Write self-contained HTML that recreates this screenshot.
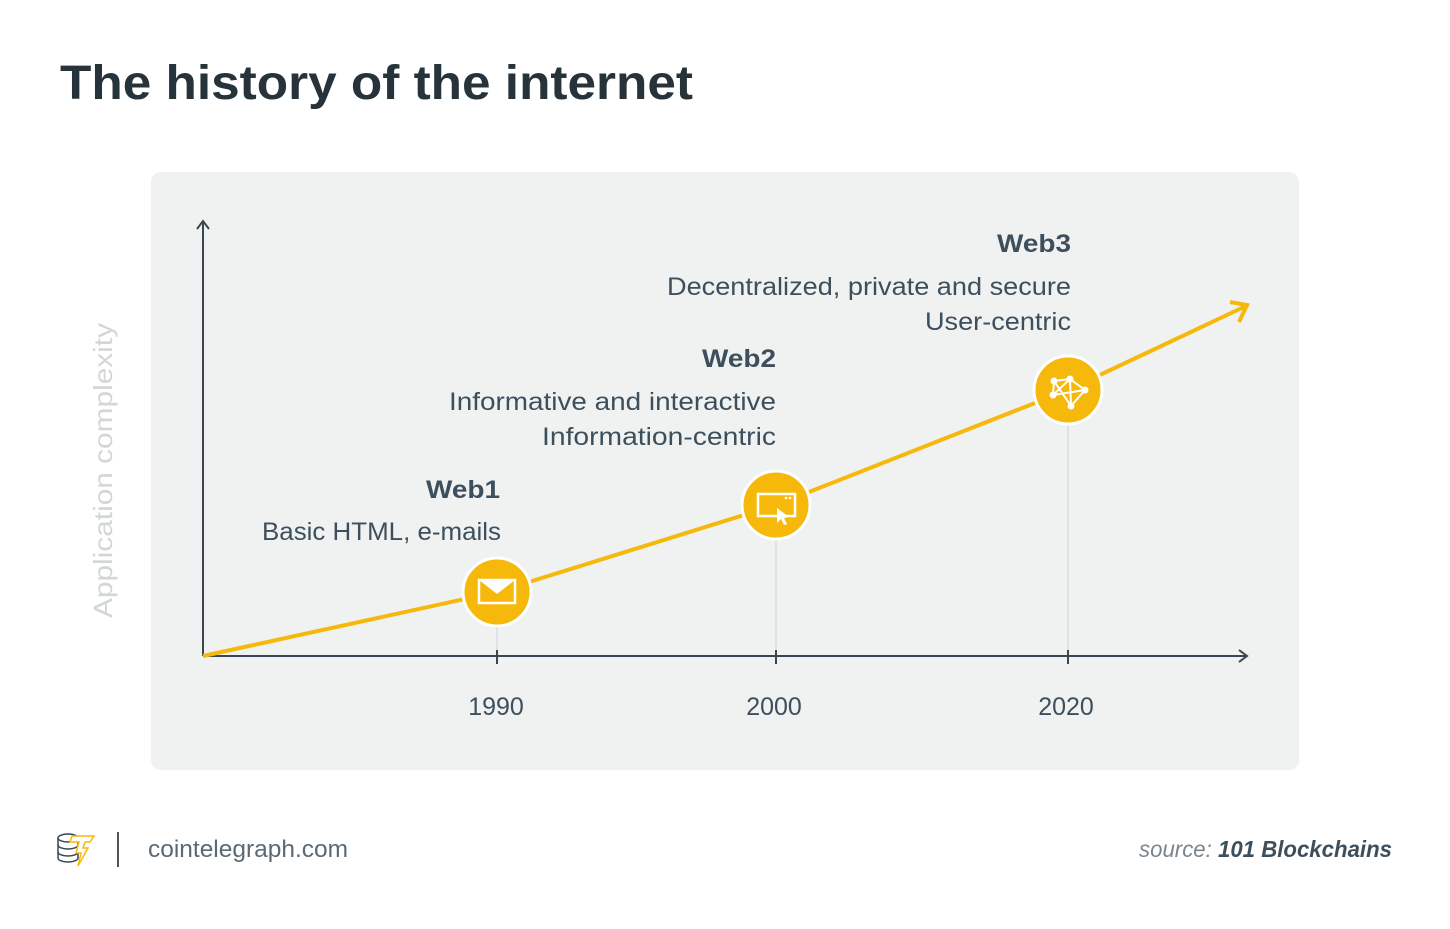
<!DOCTYPE html>
<html><head><meta charset="utf-8"><style>
html,body{margin:0;padding:0;background:#fff}
svg{display:block}
text{font-family:"Liberation Sans",sans-serif}
</style></head><body>
<svg width="1450" height="929" viewBox="0 0 1450 929" xmlns="http://www.w3.org/2000/svg">
<rect width="1450" height="929" fill="#fff"/>
<text x="60" y="99" font-size="48" font-weight="bold" fill="#27333a" textLength="633" lengthAdjust="spacingAndGlyphs">The history of the internet</text>
<rect x="151" y="172" width="1148" height="598" rx="10" fill="#f0f2f1"/>
<!-- axes -->
<line x1="203" y1="222" x2="203" y2="656" stroke="#3a4750" stroke-width="2"/>
<polyline points="197,229 203,221 209,229" fill="none" stroke="#3a4750" stroke-width="2"/>
<line x1="203" y1="656" x2="1246" y2="656" stroke="#3a4750" stroke-width="2"/>
<polyline points="1239,650 1247,656 1239,662" fill="none" stroke="#3a4750" stroke-width="2"/>
<text transform="translate(112,618) rotate(-90)" font-size="26" fill="#d3d6d7" textLength="295" lengthAdjust="spacingAndGlyphs">Application complexity</text>
<!-- guides -->
<line x1="497" y1="592" x2="497" y2="664" stroke="#dfe2e2" stroke-width="2"/>
<line x1="776" y1="505" x2="776" y2="664" stroke="#dfe2e2" stroke-width="2"/>
<line x1="1068" y1="390" x2="1068" y2="664" stroke="#dfe2e2" stroke-width="2"/>
<line x1="497" y1="650" x2="497" y2="664" stroke="#3a4750" stroke-width="2"/>
<line x1="776" y1="650" x2="776" y2="664" stroke="#3a4750" stroke-width="2"/>
<line x1="1068" y1="650" x2="1068" y2="664" stroke="#3a4750" stroke-width="2"/>
<text x="496" y="715" font-size="25" fill="#3d4f5c" text-anchor="middle">1990</text>
<text x="774" y="715" font-size="25" fill="#3d4f5c" text-anchor="middle">2000</text>
<text x="1066" y="715" font-size="25" fill="#3d4f5c" text-anchor="middle">2020</text>
<!-- line -->
<polyline points="203,656 497,592 776,505 1068,390 1246,306" fill="none" stroke="#f5b80b" stroke-width="4"/>
<polyline points="1230,302 1247,305 1239,322" fill="none" stroke="#f5b80b" stroke-width="4"/>
<!-- nodes -->
<circle cx="497" cy="592" r="34" fill="#f5b80b" stroke="#fff" stroke-width="3"/>
<rect x="479" y="580" width="36" height="23" fill="none" stroke="#fff" stroke-width="2.5"/>
<polygon points="479,580 515,580 497,594" fill="#fff"/>
<circle cx="776" cy="505" r="34" fill="#f5b80b" stroke="#fff" stroke-width="3"/>
<rect x="758" y="494" width="37" height="22" fill="none" stroke="#fff" stroke-width="2.5"/>
<polygon points="777,508 777,523 781,519 784,525 787,524 784,518 789,517" fill="#fff"/>
<circle cx="786" cy="498" r="1.3" fill="#fff"/><circle cx="790" cy="498" r="1.3" fill="#fff"/>
<circle cx="1068" cy="390" r="34" fill="#f5b80b" stroke="#fff" stroke-width="3"/>
<g stroke="#fff" stroke-width="2" fill="none"><polyline points="1054,381 1070,379 1085,390 1071,406 1054,381 1053,395 1070,379 1071,406"/><line x1="1053" y1="395" x2="1085" y2="390"/></g>
<g fill="#fff"><circle cx="1054" cy="381" r="3.5"/><circle cx="1070" cy="379" r="3.5"/><circle cx="1085" cy="390" r="3.5"/><circle cx="1071" cy="406" r="3.5"/><circle cx="1053" cy="395" r="3.5"/></g>
<!-- labels -->
<g fill="#3d4f5c" text-anchor="end">
<text x="500" y="498" font-size="25" font-weight="bold" textLength="74" lengthAdjust="spacingAndGlyphs">Web1</text>
<text x="501" y="540" font-size="25" textLength="239" lengthAdjust="spacingAndGlyphs">Basic HTML, e-mails</text>
<text x="776" y="367" font-size="25" font-weight="bold" textLength="74" lengthAdjust="spacingAndGlyphs">Web2</text>
<text x="776" y="410" font-size="25" textLength="327" lengthAdjust="spacingAndGlyphs">Informative and interactive</text>
<text x="776" y="445" font-size="25" textLength="234" lengthAdjust="spacingAndGlyphs">Information-centric</text>
<text x="1071" y="252" font-size="25" font-weight="bold" textLength="74" lengthAdjust="spacingAndGlyphs">Web3</text>
<text x="1071" y="295" font-size="25" textLength="404" lengthAdjust="spacingAndGlyphs">Decentralized, private and secure</text>
<text x="1071" y="330" font-size="25" textLength="146" lengthAdjust="spacingAndGlyphs">User-centric</text>
</g>
<!-- footer -->
<g fill="none" stroke="#3a4750" stroke-width="1.5">
<ellipse cx="68" cy="838" rx="10" ry="4"/><path d="M58,838v20a10,4 0 0 0 20,0v-20"/><path d="M58,845a10,4 0 0 0 20,0M58,852a10,4 0 0 0 20,0"/>
</g>
<path d="M72,836h22l-4,6h-5l-2,6h5l-10,18l3-13h-5l3-11h-9z" fill="#fff" stroke="#f5b80b" stroke-width="1.5"/>
<line x1="118" y1="832" x2="118" y2="867" stroke="#555" stroke-width="2"/>
<text x="148" y="857" font-size="24" fill="#5a6a75" textLength="200" lengthAdjust="spacingAndGlyphs">cointelegraph.com</text>
<text x="1392" y="857" font-size="23" fill="#7a868e" text-anchor="end" font-style="italic" textLength="253" lengthAdjust="spacingAndGlyphs">source: <tspan font-weight="bold" fill="#3d4f5c">101 Blockchains</tspan></text>
</svg>
</body></html>
